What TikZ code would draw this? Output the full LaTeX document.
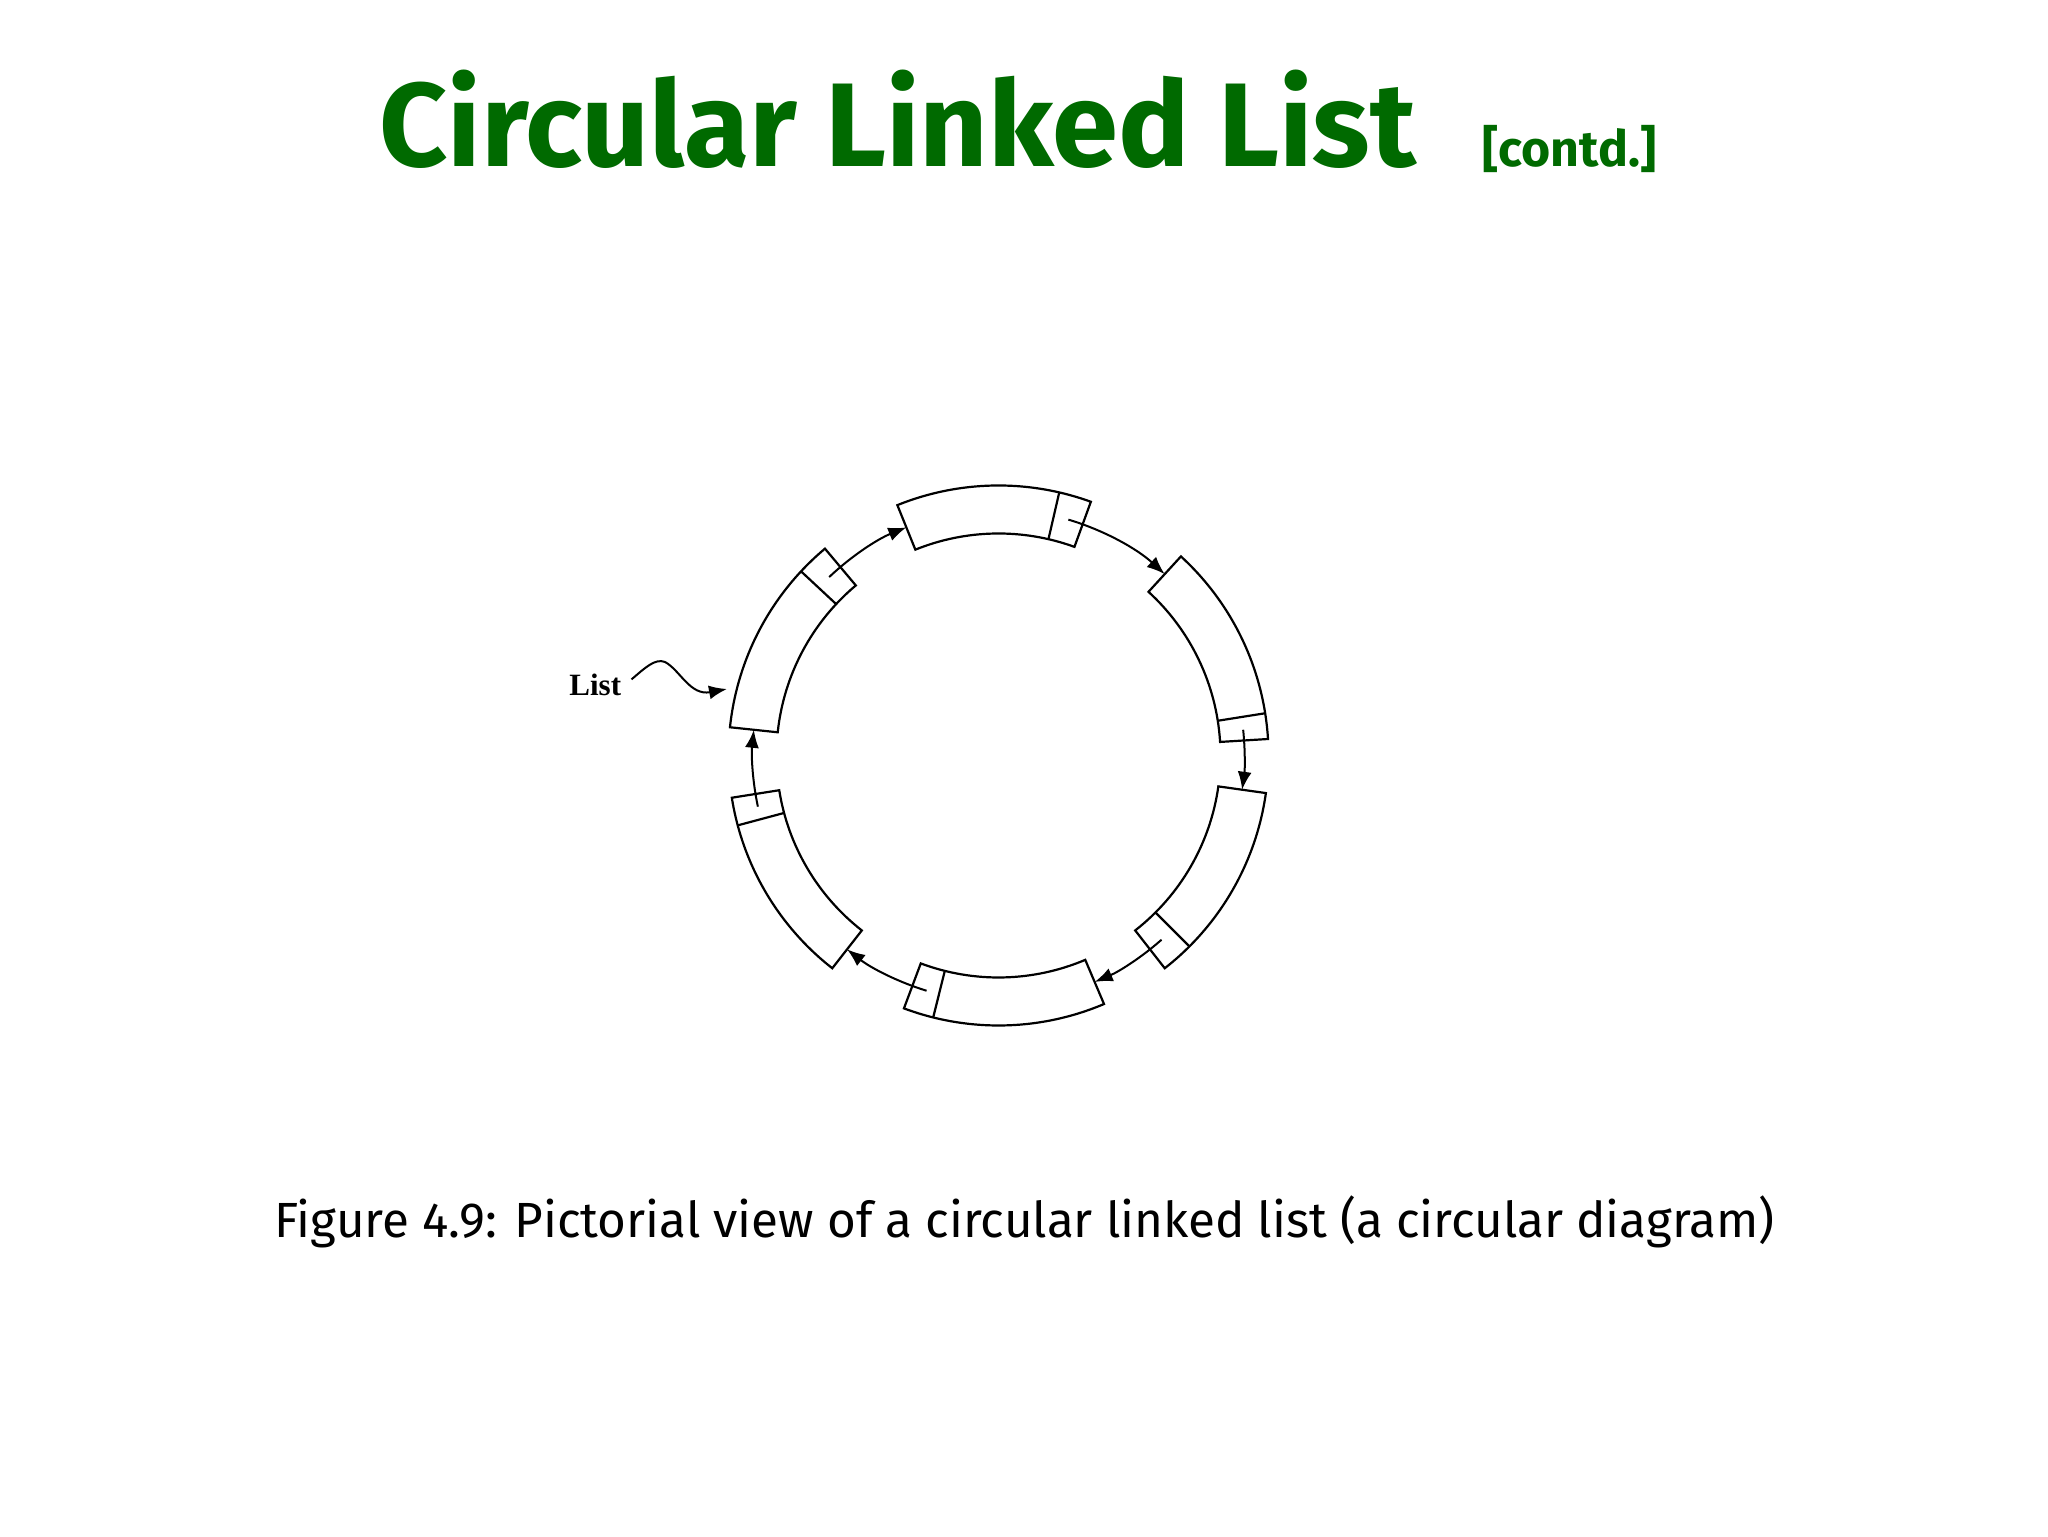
\documentclass[tikz,border=0pt]{standalone}
\usepackage{fontspec}
\setmainfont{Fira Sans}
\newfontfamily\listfont{Liberation Serif}
\usetikzlibrary{arrows.meta}
\definecolor{titlegreen}{RGB}{0,106,0}
\begin{document}
\begin{tikzpicture}[x=0.5pt,y=0.5pt,
  ring/.style={line width=1.1pt, black},
  link/.style={line width=1pt, -{Latex[length=9pt,width=7pt]}},
  lbl/.style={anchor=base west, inner sep=0pt}
]
\useasboundingbox[fill=white] (0,0) rectangle (2048,1536);
\node[lbl, text=titlegreen, font=\fontsize{59.5}{68}\selectfont\bfseries] (title) at (379,1369) {Circular Linked List};
\node[lbl, text=titlegreen, font=\fontsize{25}{30}\selectfont\bfseries] (contd) at (1482,1369) {[contd.]};
\node[lbl, font=\fontsize{24.7}{30}\selectfont] (caption) at (274,299) {Figure 4.9: Pictorial view of a circular linked list (a circular diagram)};
\node[lbl, font=\listfont\bfseries\fontsize{15.5}{18}\selectfont] (lst) at (569,840) {List};

\begin{scope}[shift={(998.5,780.5)}]
\def\Ro{270}\def\Ri{222}\def\Rm{246}
\foreach \a/\b/\d in {112/70/77, 47.5/3.5/9, -8/-52/-45, -67/-110.5/-104, -128/-171/-165, 174/130/137} {
  \draw[ring] (\a:\Ro) arc[start angle=\a, end angle=\b, radius=\Ro] -- (\b:\Ri) arc[start angle=\b, end angle=\a, radius=\Ri] -- cycle;
  \draw[ring] (\d:\Ri) -- (\d:\Ro);
}
\coordinate (p1) at (73.5:\Rm);
\coordinate (p2) at (6:\Rm);
\coordinate (p3) at (-48.5:\Rm);
\coordinate (p4) at (-107:\Rm);
\coordinate (p5) at (-168:\Rm);
\coordinate (p6) at (133.5:\Rm);
\draw[link] (p1) arc[start angle=73.5, end angle=47.5, radius=\Rm];
\draw[link] (p2) arc[start angle=6, end angle=-8, radius=\Rm];
\draw[link] (p3) arc[start angle=-48.5, end angle=-67, radius=\Rm];
\draw[link] (p4) arc[start angle=-107, end angle=-128, radius=\Rm];
\draw[link] (p5) arc[start angle=-168, end angle=-186, radius=\Rm];
\draw[link] (p6) arc[start angle=133.5, end angle=112, radius=\Rm];
\end{scope}
\coordinate (ltip) at (727,847);
\draw[link] ([xshift=5pt,yshift=3pt]lst.east) .. controls (645,868) and (655,878) .. (665,874) .. controls (680,866) and (690,840) .. (ltip);
\end{tikzpicture}
\end{document}
